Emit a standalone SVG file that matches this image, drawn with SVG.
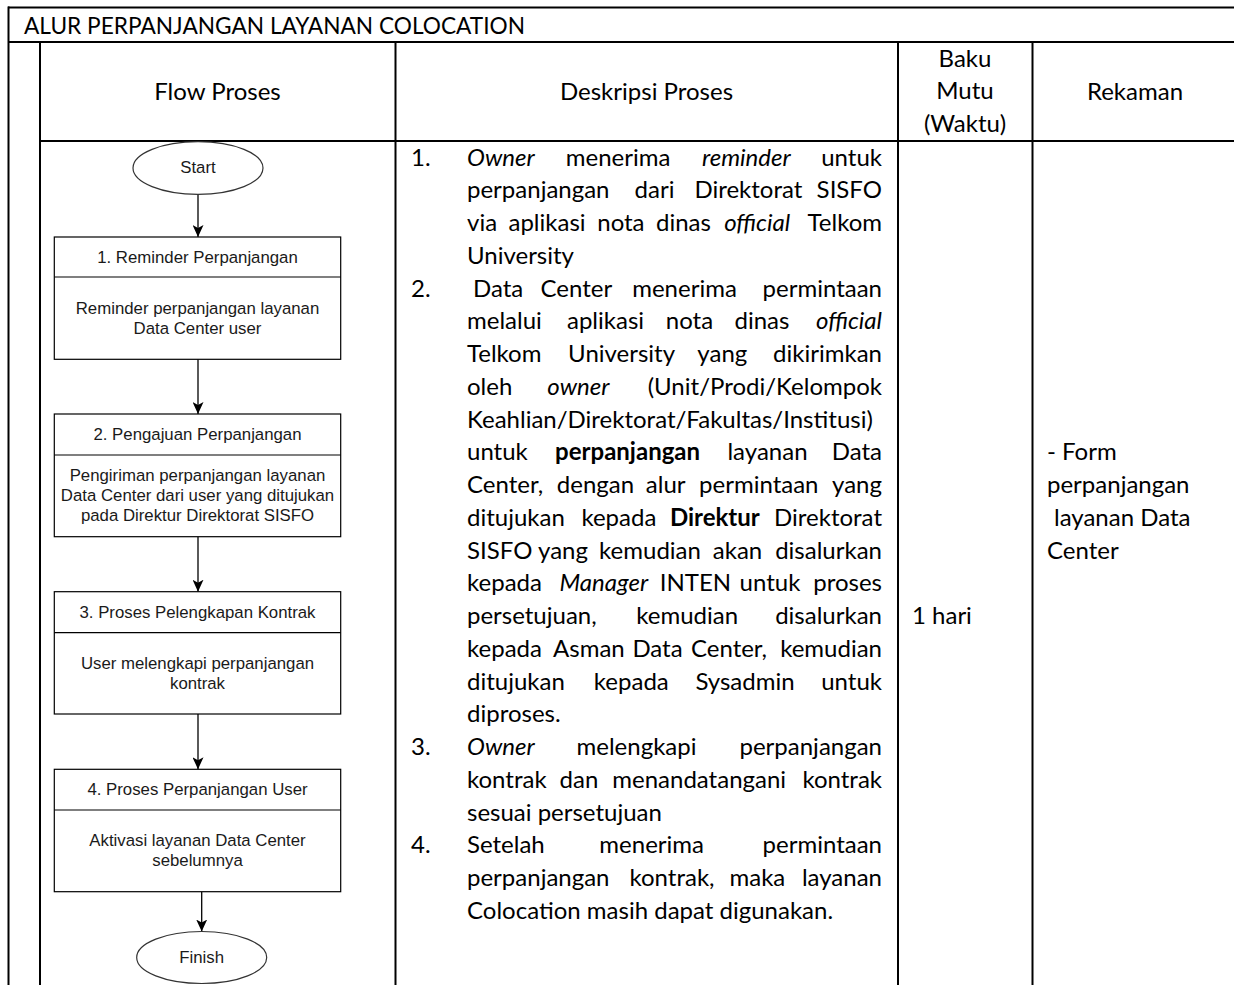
<svg xmlns="http://www.w3.org/2000/svg" width="1234" height="985" viewBox="0 0 1234 985">
<style>
.tl{stroke:#000;stroke-width:2;fill:none}
.h{font-family:Lato,Carlito,"Liberation Sans",sans-serif;font-size:24px;fill:#000}
.d{font-family:Lato,Carlito,"Liberation Sans",sans-serif;font-size:24px;fill:#000}
.it{font-style:italic}
.b{font-weight:bold}
.m{text-anchor:middle}
.e{text-anchor:end}
.f{font-family:"Liberation Sans",Arial,Helvetica,sans-serif;font-size:16.8px;fill:#1a1a1a;text-anchor:middle}
.box{fill:#fff;stroke:#000;stroke-width:1.2}
.ell{fill:#fff;stroke:#333;stroke-width:1.2}
.cn{stroke:#000;stroke-width:1.3;fill:none;marker-end:url(#arr)}
</style>
<defs>
<marker id="arr" viewBox="0 0 12 11" refX="12" refY="5.5" markerWidth="12" markerHeight="11" markerUnits="userSpaceOnUse" orient="auto">
<path d="M0,0 L12,5.5 L0,11 L3,5.5 Z" fill="#000"/>
</marker>
</defs>
<rect width="1234" height="985" fill="#fff"/>
<g id="table">
<line class="tl" x1="8" y1="7.5" x2="1240" y2="7.5"/>
<line class="tl" x1="8" y1="42" x2="1240" y2="42"/>
<line class="tl" x1="40" y1="141" x2="1240" y2="141"/>
<line class="tl" x1="8.5" y1="6.5" x2="8.5" y2="990"/>
<line class="tl" x1="40" y1="42" x2="40" y2="990"/>
<line class="tl" x1="395.5" y1="42" x2="395.5" y2="990"/>
<line class="tl" x1="898" y1="42" x2="898" y2="990"/>
<line class="tl" x1="1032.5" y1="42" x2="1032.5" y2="990"/>
</g>
<g id="headers">
<text class="h" x="24" y="33.5" textLength="501" lengthAdjust="spacingAndGlyphs">ALUR PERPANJANGAN LAYANAN COLOCATION</text>
<text class="h m" x="217.5" y="99.5">Flow Proses</text>
<text class="h m" x="646.5" y="99.5">Deskripsi Proses</text>
<text class="h m" x="965" y="66.5">Baku</text>
<text class="h m" x="965" y="99.3">Mutu</text>
<text class="h m" x="965" y="132">(Waktu)</text>
<text class="h m" x="1135" y="99.5">Rekaman</text>
</g>
<g id="deskripsi">
<text class="d" x="411" y="165.5">1.</text>
<text class="d" y="165.5"><tspan class="it" x="467">Owner</tspan><tspan class="m" x="618.1">menerima</tspan><tspan class="it m" x="746.3">reminder</tspan><tspan class="e" x="882">untuk</tspan></text>
<text class="d" y="198.25"><tspan x="467">perpanjangan</tspan><tspan class="m" x="654.5">dari</tspan><tspan class="m" x="748.4">Direktorat</tspan><tspan class="e" x="882">SISFO</tspan></text>
<text class="d" y="231"><tspan x="467">via</tspan><tspan class="m" x="547">aplikasi</tspan><tspan class="m" x="620.9">nota</tspan><tspan class="m" x="683.4">dinas</tspan><tspan class="it m" x="757.2">official</tspan><tspan class="e" x="882">Telkom</tspan></text>
<text class="d" x="467" y="263.75">University</text>
<text class="d" x="411" y="296.5">2.</text>
<text class="d" y="296.5"><tspan x="473">Data</tspan><tspan class="m" x="576.4">Center</tspan><tspan class="m" x="684.5">menerima</tspan><tspan class="e" x="882">permintaan</tspan></text>
<text class="d" y="329.25"><tspan x="467">melalui</tspan><tspan class="m" x="605.5">aplikasi</tspan><tspan class="m" x="689.5">nota</tspan><tspan class="m" x="762">dinas</tspan><tspan class="it e" x="882">official</tspan></text>
<text class="d" y="362"><tspan x="467">Telkom</tspan><tspan class="m" x="621.6">University</tspan><tspan class="m" x="722.3">yang</tspan><tspan class="e" x="882">dikirimkan</tspan></text>
<text class="d" y="394.75"><tspan x="467">oleh</tspan><tspan class="it m" x="578.4">owner</tspan><tspan class="e" x="882">(Unit/Prodi/Kelompok</tspan></text>
<text class="d" x="467" y="427.5">Keahlian/Direktorat/Fakultas/Institusi)</text>
<text class="d" y="460.25"><tspan x="467">untuk</tspan><tspan class="b m" x="627.6">perpanjangan</tspan><tspan class="m" x="767.5">layanan</tspan><tspan class="e" x="882">Data</tspan></text>
<text class="d" y="493"><tspan x="467">Center,</tspan><tspan class="m" x="595.5">dengan</tspan><tspan class="m" x="665.7">alur</tspan><tspan class="m" x="758.8">permintaan</tspan><tspan class="e" x="882">yang</tspan></text>
<text class="d" y="525.75"><tspan x="467">ditujukan</tspan><tspan class="m" x="618.9">kepada</tspan><tspan class="b m" x="714.8">Direktur</tspan><tspan class="e" x="882">Direktorat</tspan></text>
<text class="d" y="558.5"><tspan x="467">SISFO</tspan><tspan class="m" x="563">yang</tspan><tspan class="m" x="650">kemudian</tspan><tspan class="m" x="737.5">akan</tspan><tspan class="e" x="882">disalurkan</tspan></text>
<text class="d" y="591.25"><tspan x="467">kepada</tspan><tspan class="it m" x="603.8">Manager</tspan><tspan class="m" x="695.4">INTEN</tspan><tspan class="m" x="770">untuk</tspan><tspan class="e" x="882">proses</tspan></text>
<text class="d" y="624"><tspan x="467">persetujuan,</tspan><tspan class="m" x="687.2">kemudian</tspan><tspan class="e" x="882">disalurkan</tspan></text>
<text class="d" y="656.75"><tspan x="467">kepada</tspan><tspan class="m" x="588.9">Asman</tspan><tspan class="m" x="657.5">Data</tspan><tspan class="m" x="729">Center,</tspan><tspan class="e" x="882">kemudian</tspan></text>
<text class="d" y="689.5"><tspan x="467">ditujukan</tspan><tspan class="m" x="631.3">kepada</tspan><tspan class="m" x="745">Sysadmin</tspan><tspan class="e" x="882">untuk</tspan></text>
<text class="d" x="467" y="722.25">diproses.</text>
<text class="d" x="411" y="755">3.</text>
<text class="d" y="755"><tspan class="it" x="467">Owner</tspan><tspan class="m" x="636.5">melengkapi</tspan><tspan class="e" x="882">perpanjangan</tspan></text>
<text class="d" y="787.75"><tspan x="467">kontrak</tspan><tspan class="m" x="579">dan</tspan><tspan class="m" x="699.2">menandatangani</tspan><tspan class="e" x="882">kontrak</tspan></text>
<text class="d" x="467" y="820.5">sesuai persetujuan</text>
<text class="d" x="411" y="853.25">4.</text>
<text class="d" y="853.25"><tspan x="467">Setelah</tspan><tspan class="m" x="651.7">menerima</tspan><tspan class="e" x="882">permintaan</tspan></text>
<text class="d" y="886"><tspan x="467">perpanjangan</tspan><tspan class="m" x="672">kontrak,</tspan><tspan class="m" x="757.4">maka</tspan><tspan class="e" x="882">layanan</tspan></text>
<text class="d" x="467" y="918.75">Colocation masih dapat digunakan.</text>
</g>
<g id="baku-mutu">
<text class="d" x="912" y="624">1 hari</text>
</g>
<g id="rekaman">
<text class="d" x="1047" y="460.25">- Form</text>
<text class="d" x="1047" y="493">perpanjangan</text>
<text class="d" x="1054" y="525.75">layanan Data</text>
<text class="d" x="1047" y="558.5">Center</text>
</g>
<g id="connectors">
<path class="cn" d="M198,194.3 V237"/>
<path class="cn" d="M198,359.3 V414"/>
<path class="cn" d="M198,536.7 V591.7"/>
<path class="cn" d="M198,714 V769.3"/>
<path class="cn" d="M201.7,891.7 V931.5"/>
</g>
<g id="start">
<ellipse class="ell" cx="198" cy="168" rx="65" ry="26.3"/>
<text class="f" x="198" y="172.5">Start</text>
</g>
<g id="step1">
<rect class="box" x="54.3" y="237" width="286.4" height="122.3"/>
<line class="box" x1="54.3" y1="277" x2="340.7" y2="277"/>
<text class="f" x="197.5" y="262.5">1. Reminder Perpanjangan</text>
<text class="f" x="197.5" y="313.5">Reminder perpanjangan layanan</text>
<text class="f" x="197.5" y="333.5">Data Center user</text>
</g>
<g id="step2">
<rect class="box" x="54.3" y="414" width="286.4" height="122.7"/>
<line class="box" x1="54.3" y1="455" x2="340.7" y2="455"/>
<text class="f" x="197.5" y="439.8">2. Pengajuan Perpanjangan</text>
<text class="f" x="197.5" y="481">Pengiriman perpanjangan layanan</text>
<text class="f" x="197.5" y="501">Data Center dari user yang ditujukan</text>
<text class="f" x="197.5" y="521">pada Direktur Direktorat SISFO</text>
</g>
<g id="step3">
<rect class="box" x="54.3" y="591.7" width="286.4" height="122.3"/>
<line class="box" x1="54.3" y1="632.7" x2="340.7" y2="632.7"/>
<text class="f" x="197.5" y="617.5">3. Proses Pelengkapan Kontrak</text>
<text class="f" x="197.5" y="668.5">User melengkapi perpanjangan</text>
<text class="f" x="197.5" y="688.5">kontrak</text>
</g>
<g id="step4">
<rect class="box" x="54.3" y="769.3" width="286.4" height="122.4"/>
<line class="box" x1="54.3" y1="810" x2="340.7" y2="810"/>
<text class="f" x="197.5" y="794.5">4. Proses Perpanjangan User</text>
<text class="f" x="197.5" y="846">Aktivasi layanan Data Center</text>
<text class="f" x="197.5" y="866">sebelumnya</text>
</g>
<g id="finish">
<ellipse class="ell" cx="201.7" cy="957.5" rx="65" ry="26"/>
<text class="f" x="201.7" y="963">Finish</text>
</g>
</svg>
